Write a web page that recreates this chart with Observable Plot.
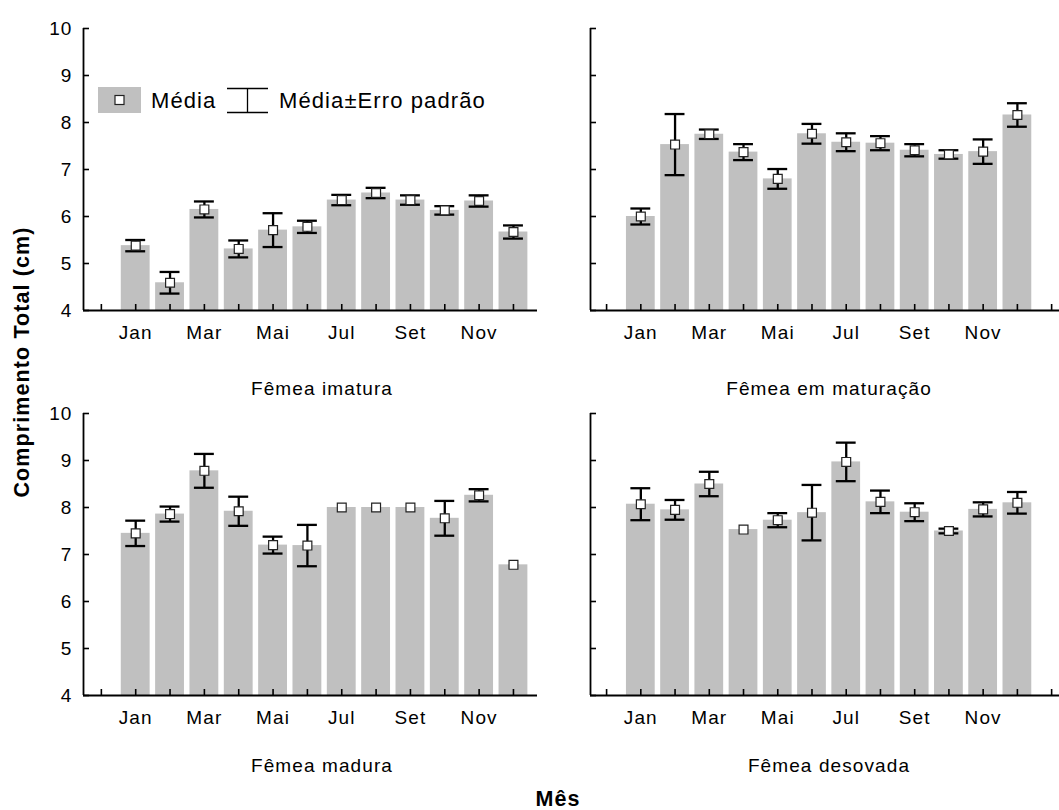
<!DOCTYPE html>
<html>
<head>
<meta charset="utf-8">
<script src="https://cdn.jsdelivr.net/npm/d3@7"></script>
<script src="https://cdn.jsdelivr.net/npm/@observablehq/plot@0.6"></script>
<style>
  body { margin: 0; background: #fff; }
  #chart { position: relative; width: 1059px; height: 810px; overflow: hidden; font-family: "Liberation Sans", Arial, sans-serif; }
  #chart > svg { position: absolute; }
</style>
</head>
<body>
<div id="chart"></div>
<script>
// ---------- data ----------
const months = ["Jan", "Fev", "Mar", "Abr", "Mai", "Jun", "Jul", "Ago", "Set", "Out", "Nov", "Dez"];
const monthIndex = [1, 2, 3, 4, 5, 6, 7, 8, 9, 10, 11, 12];
const labeledMonths = [1, 3, 5, 7, 9, 11];
const yTicks = [4, 5, 6, 7, 8, 9, 10];
const yDomain = [4, 10];

const panelTitles = ["Fêmea imatura", "Fêmea em maturação", "Fêmea madura", "Fêmea desovada"];

const meanImatura = [5.38, 4.59, 6.15, 5.31, 5.71, 5.78, 6.35, 6.50, 6.35, 6.13, 6.33, 5.67];
const seImatura   = [0.12, 0.23, 0.17, 0.18, 0.36, 0.13, 0.11, 0.11, 0.10, 0.09, 0.12, 0.14];

const meanMaturacao = [6.00, 7.53, 7.75, 7.37, 6.80, 7.76, 7.58, 7.56, 7.41, 7.32, 7.38, 8.16];
const seMaturacao   = [0.17, 0.65, 0.10, 0.17, 0.21, 0.21, 0.19, 0.15, 0.13, 0.09, 0.26, 0.25];

const meanMadura = [7.45, 7.86, 8.78, 7.92, 7.20, 7.19, 8.00, 8.00, 8.00, 7.77, 8.26, 6.78];
const seMadura   = [0.27, 0.16, 0.36, 0.31, 0.18, 0.44, 0.00, 0.00, 0.00, 0.37, 0.13, 0.00];

const meanDesovada = [8.07, 7.95, 8.50, 7.53, 7.73, 7.89, 8.97, 8.12, 7.90, 7.50, 7.96, 8.10];
const seDesovada   = [0.34, 0.21, 0.26, 0.00, 0.15, 0.59, 0.41, 0.24, 0.19, 0.05, 0.15, 0.23];

const legendLabels = ["Média", "Média±Erro padrão"];
const xTitle = "Mês";
const yTitle = "Comprimento Total (cm)";

// ---------- layout ----------
const FONT = '"Liberation Sans", Arial, sans-serif';
const chart = document.getElementById("chart");

const leftCol  = {left: 0,   width: 540, marginLeft: 83, marginRight: 3, xDomain: [-0.52, 12.7],  xTicks: d3.range(0, 13), yLabels: true};
const rightCol = {left: 540, width: 519, marginLeft: 50, marginRight: 0, xDomain: [-0.47, 13.23], xTicks: d3.range(0, 14), yLabels: false};
const rows = [{top: 0}, {top: 385}];

function makePanel(mean, se, col, row) {
  const data = monthIndex.map((m, i) => ({m, mean: mean[i], se: se[i]}));
  const err = data.filter(d => d.se > 0);
  const halfBar = 0.42, halfCap = 0.29;
  const plot = Plot.plot({
    width: col.width,
    height: 360,
    marginLeft: col.marginLeft,
    marginRight: col.marginRight,
    marginTop: 28,
    marginBottom: 50,
    x: {type: "linear", domain: col.xDomain, axis: null},
    y: {domain: yDomain, axis: null},
    style: {fontFamily: FONT, fontSize: "19px", letterSpacing: "1.1px", color: "black", background: "transparent"},
    marks: [
      Plot.rect(data, {x1: d => d.m - halfBar, x2: d => d.m + halfBar, y1: () => yDomain[0], y2: "mean", fill: "#c0c0c0"}),
      Plot.ruleY([yDomain[0]], {stroke: "black", strokeWidth: 1.8}),
      Plot.ruleX([col.xDomain[0]], {y1: yDomain[0], y2: yDomain[1], stroke: "black", strokeWidth: 1.8}),
      Plot.axisY(yTicks, {anchor: "left", tickSize: -6, tickPadding: 17, strokeWidth: 1.6, fontSize: 19, label: null, fill: "black",
        tickFormat: col.yLabels ? (d => String(d)) : (() => "")}),
      Plot.axisX(col.xTicks, {anchor: "bottom", tickSize: -6, tickFormat: () => "", strokeWidth: 1.6, label: null}),
      Plot.axisX(labeledMonths, {anchor: "bottom", tickSize: 0, tickPadding: 15, fontSize: 19, tickFormat: d => months[d - 1], label: null, fill: "black"}),
      Plot.ruleX(err, {x: "m", y1: d => d.mean - d.se, y2: d => d.mean + d.se, stroke: "black", strokeWidth: 2.3}),
      Plot.ruleY(err, {y: d => d.mean + d.se, x1: d => d.m - halfCap, x2: d => d.m + halfCap, stroke: "black", strokeWidth: 2.3}),
      Plot.ruleY(err, {y: d => d.mean - d.se, x1: d => d.m - halfCap, x2: d => d.m + halfCap, stroke: "black", strokeWidth: 2.3}),
      Plot.dot(data, {x: "m", y: "mean", symbol: "square", r: 5, fill: "white", stroke: "#222", strokeWidth: 1.2})
    ]
  });
  plot.style.left = col.left + "px";
  plot.style.top = row.top + "px";
  chart.appendChild(plot);
}

makePanel(meanImatura, seImatura, leftCol, rows[0]);
makePanel(meanMaturacao, seMaturacao, rightCol, rows[0]);
makePanel(meanMadura, seMadura, leftCol, rows[1]);
makePanel(meanDesovada, seDesovada, rightCol, rows[1]);

// ---------- titles & legend overlay ----------
const ns = "http://www.w3.org/2000/svg";
const ov = document.createElementNS(ns, "svg");
ov.setAttribute("width", 1059);
ov.setAttribute("height", 810);
ov.style.left = "0px"; ov.style.top = "0px";
ov.style.fontFamily = FONT;
ov.style.letterSpacing = "1.1px";
chart.appendChild(ov);

function el(tag, attrs, text) {
  const e = document.createElementNS(ns, tag);
  for (const k in attrs) e.setAttribute(k, attrs[k]);
  if (text != null) e.textContent = text;
  ov.appendChild(e);
  return e;
}

const titlePos = [[322, 395], [829, 395], [322, 772], [829, 772]];
panelTitles.forEach((t, i) => el("text", {x: titlePos[i][0], y: titlePos[i][1], "text-anchor": "middle", "font-size": 19}, t));
el("text", {x: 558, y: 806, "text-anchor": "middle", "font-size": 21.5, "font-weight": "bold"}, xTitle);
el("text", {transform: "translate(29,362) rotate(-90)", "text-anchor": "middle", "font-size": 21.5, "font-weight": "bold"}, yTitle);

// legend
el("rect", {x: 98, y: 87, width: 43, height: 26, fill: "#c0c0c0"});
el("rect", {x: 115, y: 95.5, width: 9, height: 9, fill: "white", stroke: "#222", "stroke-width": 1.2});
el("text", {x: 151, y: 108.3, "font-size": 22}, legendLabels[0]);
el("line", {x1: 227, x2: 268, y1: 88.5, y2: 88.5, stroke: "black", "stroke-width": 1.3});
el("line", {x1: 227, x2: 268, y1: 112.5, y2: 112.5, stroke: "black", "stroke-width": 1.3});
el("line", {x1: 247.5, x2: 247.5, y1: 88.5, y2: 112.5, stroke: "black", "stroke-width": 1.3});
el("text", {x: 279, y: 108.3, "font-size": 22}, legendLabels[1]);
</script>
</body>
</html>
